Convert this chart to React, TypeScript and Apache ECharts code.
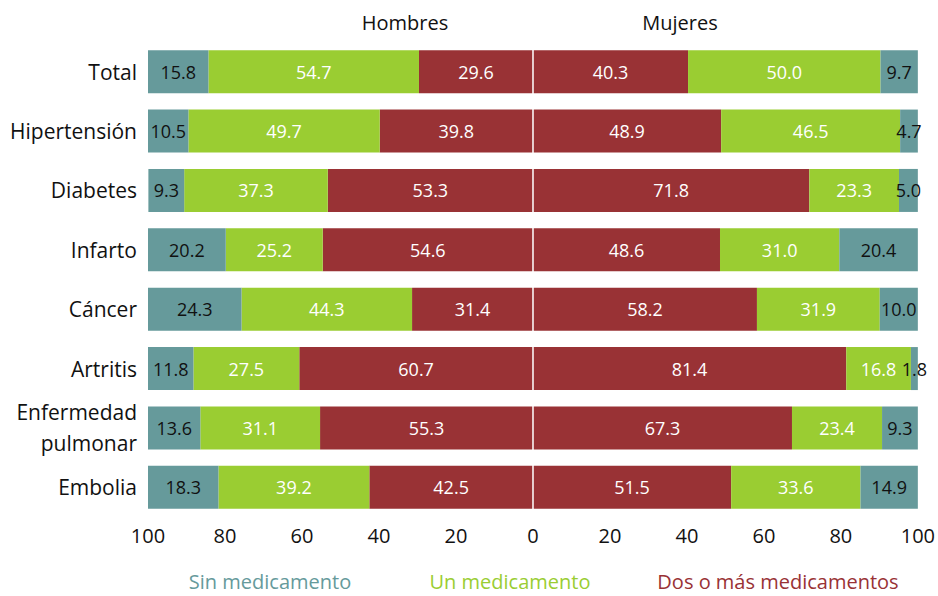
import React, { useEffect, useRef } from "react";
import * as echarts from "echarts";

const categories = ["Total", "Hipertensión", "Diabetes", "Infarto", "Cáncer", "Artritis", "Enfermedad\npulmonar", "Embolia"];

const hombresSin = [15.8, 10.5, 9.3, 20.2, 24.3, 11.8, 13.6, 18.3];
const hombresUn = [54.7, 49.7, 37.3, 25.2, 44.3, 27.5, 31.1, 39.2];
const hombresDos = [29.6, 39.8, 53.3, 54.6, 31.4, 60.7, 55.3, 42.5];

const mujeresDos = [40.3, 48.9, 71.8, 48.6, 58.2, 81.4, 67.3, 51.5];
const mujeresUn = [50.0, 46.5, 23.3, 31.0, 31.9, 16.8, 23.4, 33.6];
const mujeresSin = [9.7, 4.7, 5.0, 20.4, 10.0, 1.8, 9.3, 14.9];

const legendNames = ["Sin medicamento", "Un medicamento", "Dos o más medicamentos"];
const groupTitles = ["Hombres", "Mujeres"];

const TEAL = "#669a9b";
const GREEN = "#9acd32";
const RED = "#993235";
const FONT = "'Open Sans', 'Noto Sans', sans-serif";

export default function App() {
  const ref = useRef<HTMLDivElement>(null);

  useEffect(() => {
    if (!ref.current) return;
    const chart = echarts.init(ref.current, null, { renderer: "svg" });

    const makeSeries = (name: string, data: number[], color: string, negative: boolean, labelColor: string, extra: any = {}) => ({
      name,
      type: "bar",
      stack: "all",
      barWidth: 43,
      data: negative ? data.map((v) => -v) : data,
      itemStyle: { color },
      label: {
        show: true,
        position: "inside",
        color: labelColor,
        fontSize: 18,
        fontFamily: FONT,
        formatter: (p: any) => Math.abs(p.value).toFixed(1),
      },
      ...extra,
    });

    chart.setOption({
      animation: false,
      grid: { left: 148, right: 18, top: 42, bottom: 79, containLabel: false },
      xAxis: {
        type: "value",
        min: -100,
        max: 100,
        interval: 20,
        axisLine: { show: false },
        axisTick: { show: false },
        splitLine: { show: false },
        axisLabel: {
          color: "#111",
          fontSize: 20,
          fontFamily: FONT,
          margin: 8,
          formatter: (v: number) => String(Math.abs(v)),
        },
      },
      yAxis: {
        type: "category",
        data: categories,
        inverse: true,
        axisLine: { show: false },
        axisTick: { show: false },
        axisLabel: {
          color: "#111",
          fontSize: 21,
          fontFamily: FONT,
          margin: 11,
          lineHeight: 31,
          align: "right",
        },
      },
      series: [
        makeSeries("Hombres dos", hombresDos, RED, true, "#fff", {
          markLine: {
            silent: true,
            symbol: "none",
            label: { show: false },
            lineStyle: { color: "#ffffff", width: 1.5, type: "solid" },
            data: [{ xAxis: 0 }],
            z: 10,
          },
        }),
        makeSeries("Mujeres dos", mujeresDos, RED, false, "#fff"),
        makeSeries("Hombres un", hombresUn, GREEN, true, "#fff"),
        makeSeries("Mujeres un", mujeresUn, GREEN, false, "#fff"),
        makeSeries("Hombres sin", hombresSin, TEAL, true, "#111"),
        makeSeries("Mujeres sin", mujeresSin, TEAL, false, "#111"),
      ],
      graphic: [
        { type: "text", x: 405, y: 22, style: { text: groupTitles[0], fontSize: 20, fontFamily: FONT, fill: "#111", align: "center", verticalAlign: "middle" } },
        { type: "text", x: 680, y: 22, style: { text: groupTitles[1], fontSize: 20, fontFamily: FONT, fill: "#111", align: "center", verticalAlign: "middle" } },
        { type: "text", x: 270, y: 581, style: { text: legendNames[0], fontSize: 20, fontFamily: FONT, fill: TEAL, align: "center", verticalAlign: "middle" } },
        { type: "text", x: 510, y: 581, style: { text: legendNames[1], fontSize: 20, fontFamily: FONT, fill: GREEN, align: "center", verticalAlign: "middle" } },
        { type: "text", x: 778, y: 581, style: { text: legendNames[2], fontSize: 20, fontFamily: FONT, fill: RED, align: "center", verticalAlign: "middle" } },
      ],
    });

    return () => chart.dispose();
  }, []);

  return <div ref={ref} style={{ width: 938, height: 596, position: "absolute", left: 0, top: 0 }} />;
}
